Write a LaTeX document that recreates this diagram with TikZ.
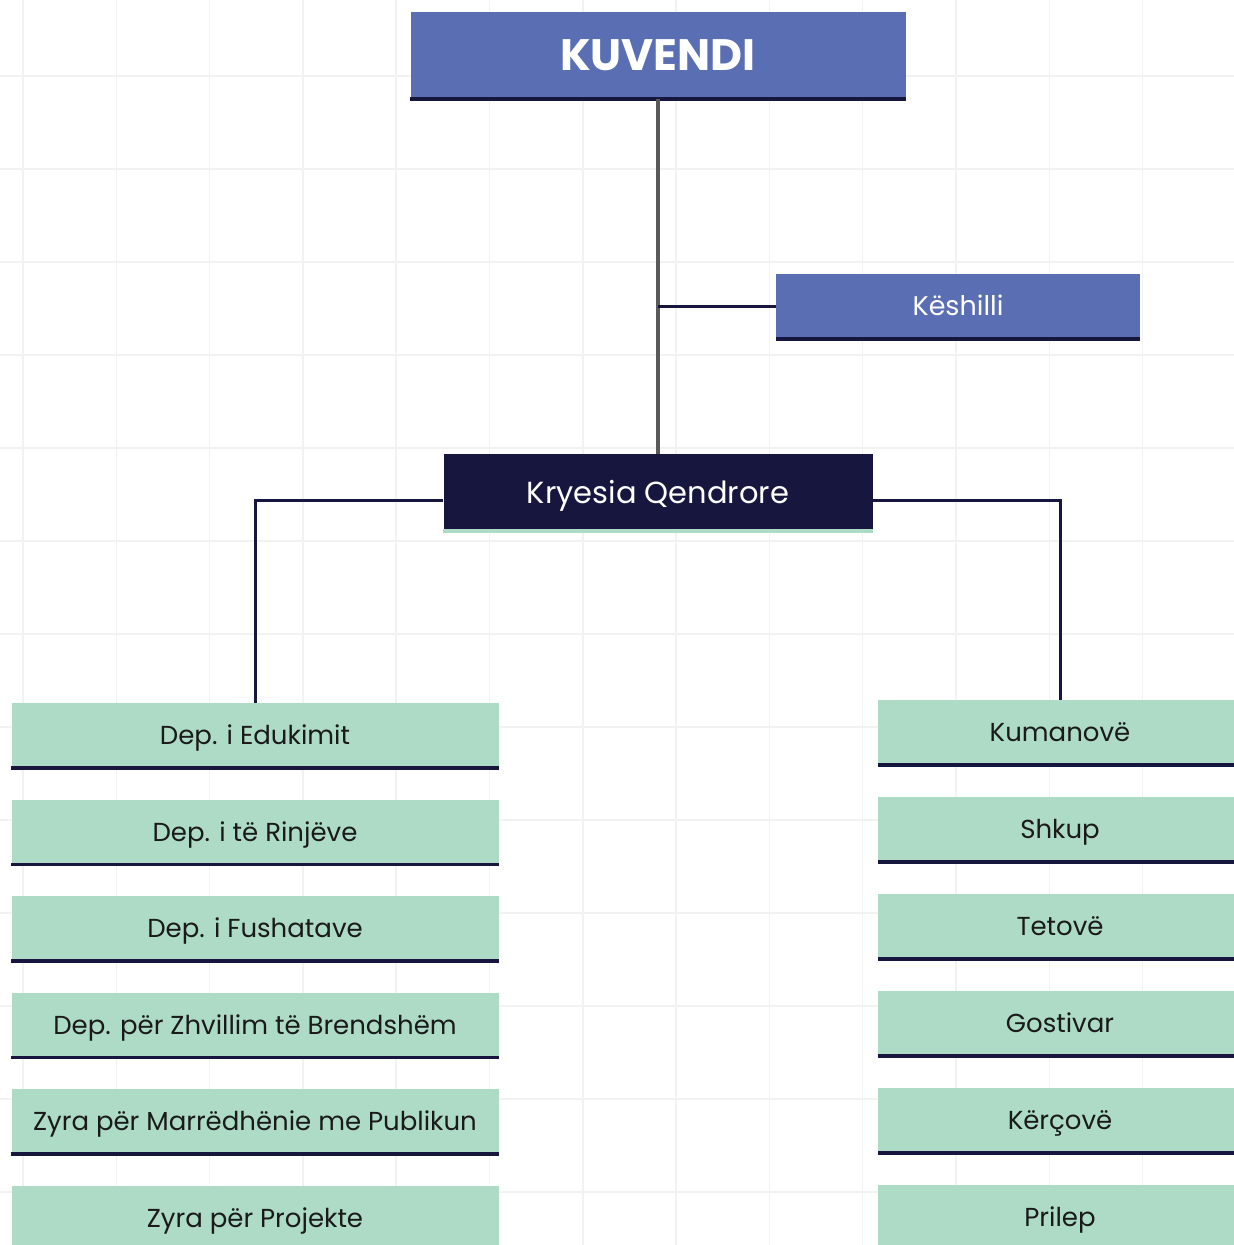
\documentclass[tikz,border=0pt]{standalone}
\usepackage{fontspec}
\setmainfont{Poppins}
\definecolor{kblue}{HTML}{5A6EB4}
\definecolor{knavy}{HTML}{16163F}
\definecolor{kmint}{HTML}{ADDBC5}
\definecolor{kgrid}{HTML}{F2F2F2}
\definecolor{kline}{HTML}{5A5A5A}
\definecolor{ktext}{HTML}{1A1A1A}

\begin{document}
\begin{tikzpicture}
   [
    x=1pt, y=-1pt,
    every node/.style={inner sep=0pt, align=center},
    kuti/.style={rectangle, minimum height=65pt, text height=18pt, text depth=0pt,
                 font=\fontsize{26}{30}\selectfont},
    blu/.style={kuti, fill=kblue, text=white},
    gjelber/.style={kuti, fill=kmint, text=ktext},
    fund/.style={append after command={(\tikzlastnode.south west)
                 edge[draw=#1, line width=3.5pt] (\tikzlastnode.south east)}},
    fund/.default=knavy,
    lidhje/.style={draw=knavy, line width=3pt}
   ]

\useasboundingbox (0,0) rectangle (1234,1245);

% rrjeta e sfondit
\foreach \gx in {0,...,12}
  \draw[kgrid, line width=1.5pt] ({23+93.3*\gx},0) -- ({23+93.3*\gx},1245);
\foreach \gy in {0,...,12}
  \draw[kgrid, line width=1.5pt] (0,{76+93*\gy}) -- (1234,{76+93*\gy});

% niveli i pare
\node[blu, fund, minimum width=495pt, minimum height=87pt, text height=30pt,
      font=\fontsize{44}{50}\selectfont\bfseries] (kuvendi) at (658,55.5) {KUVENDI};
\node[blu, fund, minimum width=364pt, font=\fontsize{27}{31}\selectfont] (keshilli) at (958,306.5) {Këshilli};
\node[kuti, fill=knavy, text=white, fund=kmint, minimum width=429pt,
      minimum height=77pt, text height=21pt,
      font=\fontsize{30.5}{35}\selectfont] (kryesia) at (658,492.5) {Kryesia Qendrore};

% departamentet
\foreach \emri [count=\i] in {Dep. i Edukimit, Dep. i të Rinjëve, Dep. i Fushatave,
    Dep. për Zhvillim të Brendshëm, Zyra për Marrëdhënie me Publikun, Zyra për Projekte}
  \node[gjelber, fund, minimum width=487pt] (dep\i) at (255,{735.5+96.5*(\i-1)}) {\emri};

% degat
\foreach \emri [count=\i] in {Kumanovë, Shkup, Tetovë, Gostivar, Kërçovë, Prilep}
  \node[gjelber, fund, minimum width=364pt] (dega\i) at (1060,{732.5+97*(\i-1)}) {\emri};

% lidhjet
\draw[draw=kline, line width=4pt] (kuvendi.south) -- (kryesia.north);
\draw[lidhje] (keshilli.west) -- (keshilli.west -| kuvendi.south);
\draw[lidhje] ([yshift=-7.5pt]kryesia.west) -| (dep1.north);
\draw[lidhje] ([yshift=-7.5pt]kryesia.east) -| (dega1.north);

\end{tikzpicture}
\end{document}
